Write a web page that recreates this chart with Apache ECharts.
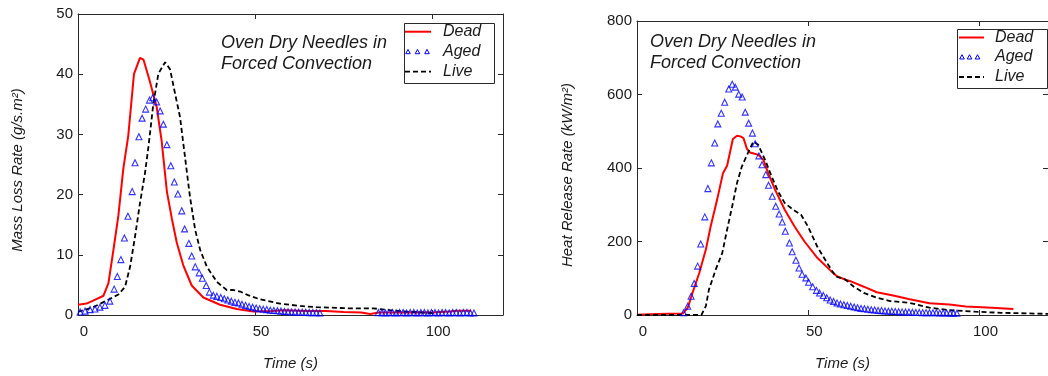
<!DOCTYPE html>
<html>
<head>
<meta charset="utf-8">
<script src="https://cdn.jsdelivr.net/npm/echarts@6/dist/echarts.min.js"></script>
<style>
html,body{margin:0;padding:0;background:#fff;}
#c{width:1048px;height:376px;}
</style>
</head>
<body>
<div id="c"></div>
<script>
// ---------- data: left panel, Mass Loss Rate (g/s.m²) vs Time (s) ----------
var mlrDead = [[0,1.7],[2.4,1.9],[4.3,2.4],[7.2,3.2],[8.6,5.3],[10,10.8],[11.4,16.5],[12.8,24.3],[14.2,29.8],[15.8,40],[17.5,42.7],[18.5,42.4],[20.2,39],[22.2,34.6],[23.6,29],[25.1,20.5],[26.5,16],[27.9,12],[29.7,8.3],[32.1,4.9],[35.4,2.9],[40.1,1.7],[44.8,1.0],[49.5,0.6],[55,0.65],[58,0.8],[65,0.65],[70,0.65],[75,0.5],[80,0.4],[82.5,0.15],[85,0.4],[90,0.4],[95,0.45],[100,0.4],[105,0.6],[107,0.7],[111,0.7]];
var mlrAged = [[0.6,0.5],[2,0.65],[3.4,0.9],[4.8,1.0],[6.2,1.3],[7.6,1.6],[9,2.3],[10.2,4.3],[11.1,6.4],[12.1,9.2],[13.1,12.8],[14.1,16.4],[15.3,20.5],[16.1,25.3],[17.2,29.6],[18.1,32.7],[19.1,34.2],[20.2,35.7],[21.1,36.1],[22.2,35.4],[23.2,33.9],[24.1,31.7],[25.1,28.3],[26.2,24.8],[27.2,22.1],[28.2,20.1],[29.3,17.3],[30.1,14.3],[31.3,11.9],[32.1,9.8],[33.1,8.0],[34.2,7.0],[35.1,6.1],[36.2,4.9],[37.1,3.8],[38.2,3.3],[39.2,3.1],[40.3,2.9],[41.3,2.7],[42.3,2.5],[43.3,2.3],[44.3,2.1],[45.3,2.0],[46.3,1.8],[47.3,1.6],[48.3,1.4],[49.3,1.3],[50.3,1.15],[51.3,1.05],[52.3,0.95],[53.3,0.9],[54.3,0.8],[55.3,0.75],[56.3,0.7],[57.3,0.65],[58.3,0.6],[59.3,0.55],[60.3,0.5],[61.3,0.5],[62.3,0.45],[63.3,0.45],[64.3,0.45],[65.3,0.4],[66.3,0.4],[67.3,0.4],[68.3,0.35],
  [84.8,0.4],[85.8,0.4],[86.8,0.35],[87.8,0.4],[88.8,0.4],[89.8,0.35],[90.8,0.4],[91.8,0.4],[92.8,0.35],[93.8,0.4],[94.8,0.4],[95.8,0.35],[96.8,0.4],[97.8,0.4],[98.8,0.35],[99.8,0.4],[100.8,0.4],[101.8,0.35],[102.8,0.4],[103.8,0.4],[104.8,0.35],[105.8,0.4],[106.8,0.4],[107.8,0.35],[108.8,0.4],[109.8,0.4],[110.8,0.35],[111.8,0.35]];
var mlrLive = [[0,0.5],[4.3,1.3],[8.1,2.4],[11.4,3.4],[13.3,4.7],[14.7,8],[16.1,13],[17.5,18.6],[18.9,23.5],[19.9,28],[21.3,35.2],[22.7,40.1],[24.6,42],[26,40.8],[27.4,36.8],[28.8,32.9],[30.2,26.3],[31.6,19.7],[33.1,14.1],[34.5,10.8],[36.4,8],[39.2,5.5],[42,4.15],[43.9,4.15],[45.8,3.9],[48,3.3],[51.4,2.6],[57,1.9],[62.7,1.5],[67.4,1.3],[76.8,1.1],[83.4,1.1],[88.1,0.8],[92.8,0.55],[97.5,0.4],[100,0.3]];

// ---------- data: right panel, Heat Release Rate (kW/m²) vs Time (s) ----------
var hrrDead = [[0,1],[6,3],[13.4,4],[14.8,19.5],[16.2,60],[18.2,115],[20.1,178],[21.5,241],[23.4,314],[25.1,386],[26.3,406],[28,479],[29.2,488],[30.2,486],[31.1,481],[32.1,452],[33,442],[35.4,436],[36.9,422],[38.3,386],[40.3,341],[43.1,287],[46,241],[48.9,200],[52.7,155],[56.6,120],[58.5,105],[60.9,96],[62.3,92],[66.2,77],[70,62],[74.8,53],[79.6,43],[85.4,32],[91.2,28.5],[96,23],[103.7,20],[109.9,16]];
var hrrAged = [[13.6,6],[14.8,24],[15.8,51],[16.7,86],[17.7,133],[18.6,193],[19.8,267],[20.7,344],[21.7,414],[22.7,468],[23.6,520],[24.6,549],[25.6,579],[26.8,615],[27.8,628],[28.7,620],[29.7,601],[30.7,593],[31.6,552],[32.6,522],[33.7,495],[34.5,466],[35.6,433],[36.5,409],[37.6,382],[38.4,353],[39.5,323],[40.5,296],[41.5,275],[42.4,253],[43.3,228],[44.5,196],[45.3,172],[46.4,149],[47.3,128],[48.2,111],[49.3,101],[50.1,89],[51.3,77],[52.4,67],[53.3,60],[54.4,53],[55.4,47],[56.4,41],[57.4,37],[58.4,33],[59.4,30],[60.4,28],[61.4,26],[62.4,24],[63.4,22],[64.4,20],[65.4,18],[66.4,17],[67.4,15.5],[68.4,14.5],[69.4,13.5],[70.4,12.5],[71.4,12],[72.4,11],[73.4,10.5],[74.4,10],[75.4,9.5],[76.4,9],[77.4,8.5],[78.4,8],[79.4,8],[80.4,7.5],[81.4,7],[82.4,7],[83.4,6.5],[84.4,6.5],[85.4,6],[86.4,6],[87.4,6],[88.4,5.5],[89.4,5.5],[90.4,5.5],[91.4,5],[92.4,5],[93.4,5]];
var hrrLive = [[0,0],[12,0],[18.8,0],[20.1,24],[21,69],[23,124],[24.9,169],[26.3,232],[27.8,296],[29.2,359],[30.6,404],[32.6,445],[34,472],[35.4,463],[37.4,422],[39.3,377],[41.2,336],[43.1,305],[45.5,287],[47.9,273],[49.9,241],[52.7,185],[55.6,140],[58,105],[60.9,96],[63.3,77],[66.2,60],[70,47],[73.9,38],[79.6,33],[85.4,20],[91.2,13],[98.8,9],[106.5,6],[116,4],[120,3]];

// ---------- axis / text settings ----------
var xTicks = {min:0, max:120, interval:50};
var yLeftTicks = {min:0, max:50, interval:10};
var yRightTicks = {min:0, max:800, interval:200};
var seriesNames = ['Dead','Aged','Live'];
var noteLines = ['Oven Dry Needles in','Forced Convection'];
var xTitle = 'Time (s)';
var yTitleLeft = 'Mass Loss Rate (g/s.m²)';
var yTitleRight = 'Heat Release Rate (kW/m²)';

var FONT = '"Liberation Sans", Arial, Helvetica, sans-serif';
var AX = '#2a2a2a';
var TXT = '#1a1a1a';

function xAxisDef(grid, pos, withLabel){
  return {
    gridIndex:grid, type:'value', position:pos,
    min:xTicks.min, max:xTicks.max, interval:xTicks.interval,
    axisLine:{show:true, onZero:false, lineStyle:{color:AX, width:1}},
    axisTick:{show:true, inside:true, length:5, lineStyle:{color:AX}},
    axisLabel:{show:withLabel, fontFamily:FONT, fontSize:15, color:TXT, margin:9, showMaxLabel:false, padding:[0,0,0,12]},
    splitLine:{show:false},
    name: withLabel ? xTitle : '',
    nameLocation:'middle', nameGap:41,
    nameTextStyle:{fontFamily:FONT, fontSize:15, fontStyle:'italic', color:TXT}
  };
}
function yAxisDef(grid, pos, ticks, withLabel, title, gap, shift){
  return {
    gridIndex:grid, type:'value', position:pos,
    min:ticks.min, max:ticks.max, interval:ticks.interval,
    axisLine:{show:true, onZero:false, lineStyle:{color:AX, width:1}},
    axisTick:{show:true, inside:true, length:5, lineStyle:{color:AX}},
    axisLabel:{show:withLabel, fontFamily:FONT, fontSize:15, color:TXT, margin:5},
    splitLine:{show:false},
    name: withLabel ? title : '',
    nameLocation:'middle', nameGap:gap,
    nameTextStyle:{fontFamily:FONT, fontSize:15, fontStyle:'italic', color:TXT, padding:[0,shift||0,0,0]}
  };
}

var deadStyle = {color:'#ff0000', width:2};
var liveStyle = {color:'#000000', width:1.8, type:[5,3]};
var agedItem = {color:'rgba(255,255,255,0)', borderColor:'#0000ff', borderWidth:1.1};

function lineSeries(name, data, xi, yi, ls){
  return {name:name, type:'line', xAxisIndex:xi, yAxisIndex:yi, data:data, showSymbol:false, symbol:'none', smooth:false, lineStyle:ls, z:3, silent:true};
}
function scatterSeries(name, data, xi, yi){
  return {name:name, type:'scatter', xAxisIndex:xi, yAxisIndex:yi, data:data, symbol:'triangle', symbolSize:6, itemStyle:agedItem, z:4, silent:true};
}

// legend + note drawn as graphic
function legendBlock(bx, by, bw, bh, rows, lineX0, lineX1, triXs, textX){
  var g = [];
  g.push({type:'rect', shape:{x:bx, y:by, width:bw, height:bh}, style:{fill:'#fff', stroke:AX, lineWidth:1}, z:10});
  g.push({type:'line', shape:{x1:lineX0, y1:rows[0], x2:lineX1, y2:rows[0]}, style:{stroke:'#ff0000', lineWidth:2}, z:11});
  triXs.forEach(function(tx){
    g.push({type:'polygon', shape:{points:[[tx-2.3,rows[1]+2],[tx+2.3,rows[1]+2],[tx,rows[1]-2.3]]}, style:{fill:'none', stroke:'#0000ff', lineWidth:1}, z:11});
  });
  g.push({type:'line', shape:{x1:lineX0, y1:rows[2], x2:lineX1, y2:rows[2]}, style:{stroke:'#000', lineWidth:1.8, lineDash:[5,3]}, z:11});
  for (var i=0;i<3;i++){
    g.push({type:'text', x:textX, y:rows[i], style:{text:seriesNames[i], font:'italic 16px '+FONT, fill:TXT, verticalAlign:'middle', align:'left'}, z:11});
  }
  return g;
}
function noteBlock(x, y0, y1){
  return [
    {type:'text', x:x, y:y0, style:{text:noteLines[0], font:'italic 18px '+FONT, fill:TXT, verticalAlign:'middle'}, z:11},
    {type:'text', x:x, y:y1, style:{text:noteLines[1], font:'italic 18px '+FONT, fill:TXT, verticalAlign:'middle'}, z:11}
  ];
}

var chart = echarts.init(document.getElementById('c'), null, {renderer:'canvas'});
var option = {
  animation:false,
  backgroundColor:'#fff',
  textStyle:{fontFamily:FONT},
  grid:[
    {left:78, top:14, width:425, height:301, containLabel:false},
    {left:637, top:21, width:416.5, height:294.5, containLabel:false}
  ],
  xAxis:[xAxisDef(0,'bottom',true), xAxisDef(0,'top',false), xAxisDef(1,'bottom',true), xAxisDef(1,'top',false)],
  yAxis:[
    yAxisDef(0,'left',yLeftTicks,true,yTitleLeft,53,11),
    yAxisDef(0,'right',yLeftTicks,false,'',0),
    yAxisDef(1,'left',yRightTicks,true,yTitleRight,62,14),
    yAxisDef(1,'right',yRightTicks,false,'',0)
  ],
  series:[
    lineSeries(seriesNames[0], mlrDead, 0, 0, deadStyle),
    scatterSeries(seriesNames[1], mlrAged, 0, 0),
    lineSeries(seriesNames[2], mlrLive, 0, 0, liveStyle),
    lineSeries(seriesNames[0], hrrDead, 2, 2, deadStyle),
    scatterSeries(seriesNames[1], hrrAged, 2, 2),
    lineSeries(seriesNames[2], hrrLive, 2, 2, liveStyle)
  ],
  graphic:[].concat(
    legendBlock(404.5, 23.5, 90, 60, [31.7, 51.7, 71.7], 405, 431, [408, 417.5, 427], 443),
    legendBlock(957.5, 29.5, 90, 59, [37.5, 57, 77], 959, 984, [962, 969.5, 977.5], 995),
    noteBlock(221, 43, 64),
    noteBlock(650, 42, 63)
  )
};
chart.setOption(option);
</script>
</body>
</html>
